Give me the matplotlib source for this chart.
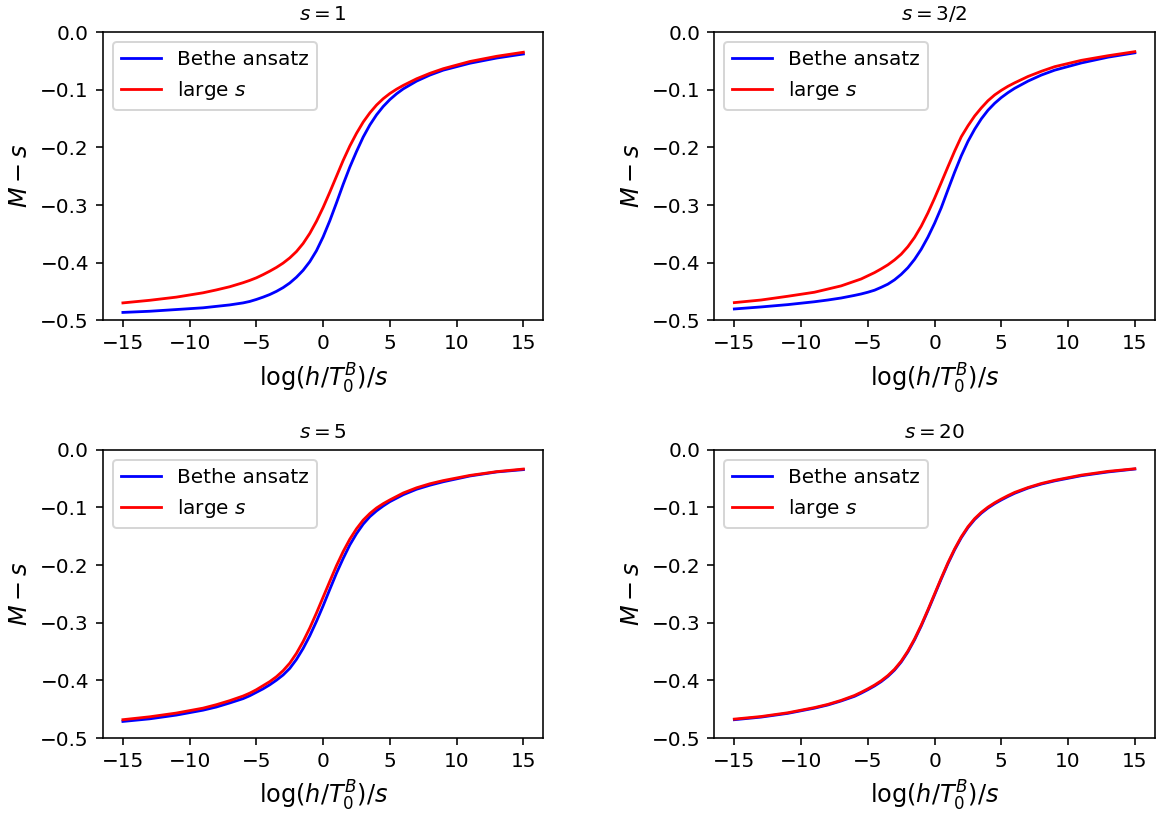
import numpy as np
from matplotlib import pyplot as plt

# x positions the curves were read at
x_vals = [-15, -13, -11, -9, -8, -7, -6, -5.5, -5, -4.5, -4, -3.5, -3, -2.5, -2, -1.5,
          -1, -0.5, 0, 0.5, 1, 1.5, 2, 2.5, 3, 3.5, 4, 4.5, 5, 5.5, 6, 7, 8, 9,
          11, 13, 15]

# s = 1
bethe_s1 = [-0.486, -0.484, -0.481, -0.478, -0.4755, -0.473, -0.4695, -0.467, -0.4635, -0.4595,
            -0.455, -0.4495, -0.443, -0.435, -0.425, -0.413, -0.398, -0.379, -0.355, -0.327,
            -0.296, -0.264, -0.234, -0.207, -0.182, -0.161, -0.1435, -0.129, -0.117, -0.107,
            -0.0985, -0.085, -0.0745, -0.066, -0.054, -0.045, -0.038]
large_s1 = [-0.4695, -0.465, -0.4595, -0.452, -0.447, -0.4415, -0.4345, -0.4305, -0.426, -0.4205,
            -0.4145, -0.408, -0.4005, -0.3915, -0.3805, -0.3665, -0.349, -0.328, -0.304, -0.2775,
            -0.25, -0.2225, -0.1975, -0.1755, -0.156, -0.140, -0.1265, -0.1155, -0.1065, -0.099,
            -0.0925, -0.081, -0.0715, -0.0635, -0.051, -0.042, -0.035]

# s = 3/2
bethe_s32 = [-0.480, -0.4765, -0.4725, -0.4675, -0.4645, -0.461, -0.4565, -0.454, -0.451, -0.4475,
             -0.4425, -0.437, -0.4295, -0.420, -0.4085, -0.394, -0.3765, -0.3555, -0.3315, -0.3045,
             -0.2735, -0.243, -0.2145, -0.1895, -0.1685, -0.1505, -0.1355, -0.1235, -0.1135, -0.105,
             -0.0975, -0.085, -0.0745, -0.066, -0.0535, -0.0435, -0.036]
large_s32 = [-0.469, -0.4645, -0.458, -0.451, -0.4455, -0.440, -0.432, -0.428, -0.4225, -0.417,
             -0.4105, -0.4035, -0.395, -0.385, -0.372, -0.356, -0.3365, -0.3135, -0.288, -0.261,
             -0.2335, -0.2065, -0.1815, -0.1625, -0.1455, -0.1315, -0.119, -0.109, -0.101, -0.094,
             -0.088, -0.077, -0.068, -0.060, -0.049, -0.041, -0.034]

# s = 5
bethe_s5 = [-0.471, -0.4665, -0.460, -0.4515, -0.446, -0.439, -0.4315, -0.4265, -0.4205, -0.4145,
            -0.4075, -0.3995, -0.3905, -0.379, -0.3635, -0.3445, -0.3225, -0.2975, -0.2705, -0.242,
            -0.214, -0.1885, -0.165, -0.1455, -0.129, -0.116, -0.106, -0.0975, -0.090, -0.084,
            -0.078, -0.0685, -0.0615, -0.0555, -0.0455, -0.0385, -0.0345]
large_s5 = [-0.468, -0.463, -0.4565, -0.448, -0.442, -0.435, -0.427, -0.422, -0.416, -0.409,
            -0.402, -0.3935, -0.383, -0.370, -0.353, -0.3325, -0.309, -0.283, -0.2555, -0.228,
            -0.201, -0.1765, -0.155, -0.137, -0.122, -0.1105, -0.101, -0.0935, -0.087, -0.081,
            -0.075, -0.066, -0.059, -0.0535, -0.0445, -0.038, -0.0335]

# s = 20
bethe_s20 = [-0.468, -0.4635, -0.457, -0.448, -0.4425, -0.4355, -0.4275, -0.422, -0.416, -0.4095,
             -0.402, -0.393, -0.382, -0.368, -0.3505, -0.3295, -0.3055, -0.279, -0.2515, -0.224,
             -0.1975, -0.1735, -0.1525, -0.135, -0.121, -0.110, -0.101, -0.0935, -0.087, -0.081,
             -0.0755, -0.0665, -0.0595, -0.054, -0.045, -0.0385, -0.0335]
large_s20 = [-0.467, -0.4625, -0.456, -0.447, -0.4415, -0.4345, -0.426, -0.4205, -0.4145, -0.408,
             -0.4005, -0.3915, -0.3805, -0.3665, -0.349, -0.328, -0.304, -0.2775, -0.25, -0.2225,
             -0.196, -0.172, -0.151, -0.1335, -0.1195, -0.1085, -0.0995, -0.092, -0.0855, -0.0795,
             -0.074, -0.0655, -0.0585, -0.053, -0.044, -0.0375, -0.033]

titles = ['$s=1$', '$s=3/2$', '$s=5$', '$s=20$']
bethe_all = [bethe_s1, bethe_s32, bethe_s5, bethe_s20]
large_all = [large_s1, large_s32, large_s5, large_s20]

fig, axes = plt.subplots(2, 2, figsize=(1156 / 144, 822 / 144), dpi=144)
fig.subplots_adjust(left=0.089, right=0.999, top=0.961, bottom=0.102,
                    wspace=0.388, hspace=0.448)

for ax, title, bethe, large in zip(axes.flat, titles, bethe_all, large_all):
    ax.plot(x_vals, bethe, color='blue', lw=1.4, label='Bethe ansatz')
    ax.plot(x_vals, large, color='red', lw=1.4, label='large $s$')
    ax.set_ylim(-0.5, 0.0)
    ax.set_xticks([-15, -10, -5, 0, 5, 10, 15])
    ax.set_title(title, fontsize=10)
    ax.set_xlabel(r'$\log(h/T_0^B)/s$', fontsize=12)
    ax.set_ylabel('$M-s$', fontsize=12)
    ax.legend(loc='upper left', fontsize=10)

fig.savefig('out.png', dpi=144)
